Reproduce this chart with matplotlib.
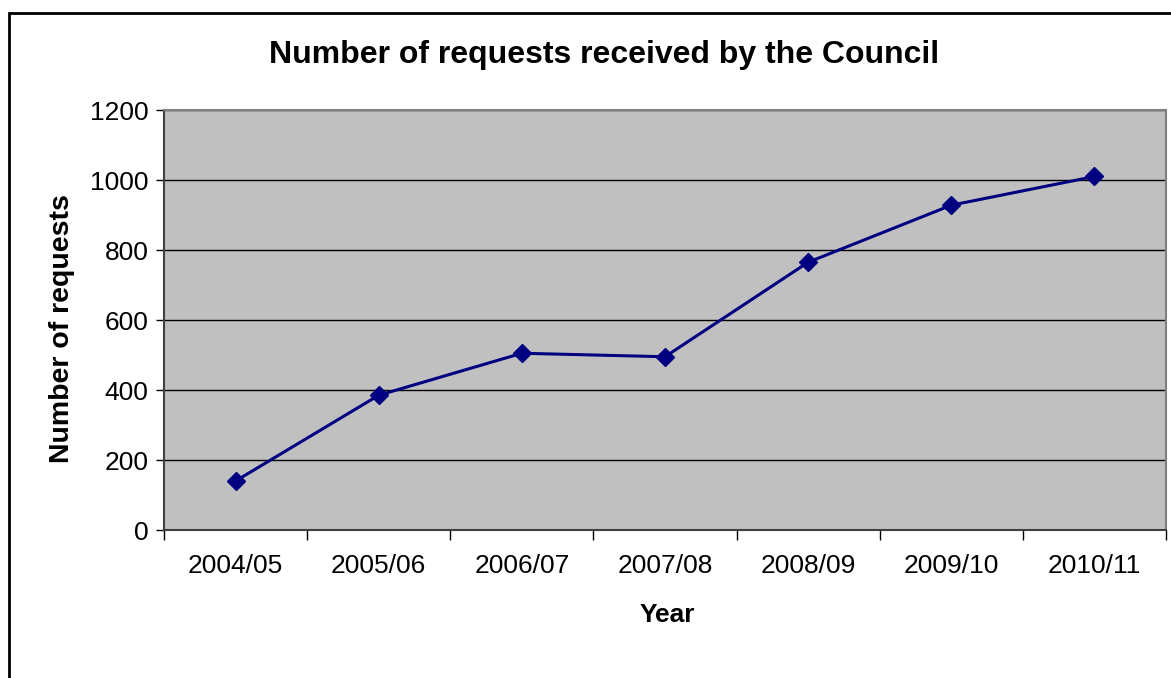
import matplotlib.pyplot as plt
from matplotlib.patches import Rectangle

plt.rcParams['font.family'] = ['Liberation Sans', 'DejaVu Sans']

years = ['2004/05', '2005/06', '2006/07', '2007/08', '2008/09', '2009/10', '2010/11']
requests = [140, 385, 505, 495, 765, 928, 1010]
y_ticks = [0, 200, 400, 600, 800, 1000, 1200]

W, H, DPI = 1171, 678, 100

fig = plt.figure(figsize=(W / DPI, H / DPI), dpi=DPI)
fig.patch.set_facecolor('white')

# outer chart border (right and bottom edges run off the canvas)
fig.patches.append(Rectangle((9 / W, -0.05), 1.2, 1 - 13 / H + 0.05, transform=fig.transFigure,
                             fill=False, edgecolor='black', linewidth=2, zorder=0))

ax = fig.add_axes([164 / W, 1 - 530 / H, (1166 - 164) / W, (530 - 110) / H])
ax.set_facecolor('#c0c0c0')

xs = list(range(len(years)))
ax.plot(xs, requests, color='#000080', linewidth=2.2, marker='D', markersize=9,
        markerfacecolor='#000080', markeredgecolor='#000080', zorder=3)

ax.set_xlim(-0.5, len(years) - 0.5)
ax.set_ylim(0, 1200)
ax.set_yticks(y_ticks)
ax.yaxis.grid(True, color='black', linewidth=1)
ax.set_axisbelow(True)

ax.set_xticks(xs)
ax.set_xticklabels(years)
ax.set_xticks([x - 0.5 for x in range(len(years) + 1)], minor=True)
ax.tick_params(axis='x', which='major', length=0, pad=17, labelsize=19)
ax.tick_params(axis='x', which='minor', length=7, width=1, color='black')
ax.tick_params(axis='y', length=6, width=1, color='black', labelsize=19, pad=5)

for side in ['top', 'right']:
    ax.spines[side].set_color('#808080')
    ax.spines[side].set_linewidth(1.5)
for side in ['left', 'bottom']:
    ax.spines[side].set_color('#404040')
    ax.spines[side].set_linewidth(1.5)

fig.text(604 / W, 1 - 55 / H, 'Number of requests received by the Council', ha='center', va='center',
         fontsize=23, fontweight='bold')
fig.text(62 / W, 1 - 329 / H, 'Number of requests', ha='center', va='center', rotation=90,
         fontsize=20.5, fontweight='bold')
fig.text(667 / W, 1 - 615 / H, 'Year', ha='center', va='center', fontsize=19, fontweight='bold')

fig.savefig('out.png', dpi=DPI)
